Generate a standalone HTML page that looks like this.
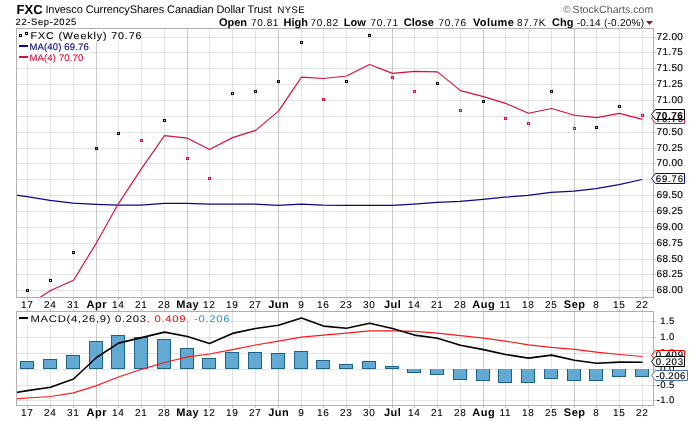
<!DOCTYPE html><html><head><meta charset="utf-8"><style>html,body{margin:0;padding:0;background:#fff;width:700px;height:421px;overflow:hidden}svg{display:block;will-change:transform;text-rendering:geometricPrecision;font-family:"Liberation Sans",sans-serif}</style></head><body>
<svg width="700" height="421" viewBox="0 0 700 421">
<rect width="700" height="421" fill="#fff"/>
<path d="M16 37.5H653M16 52.5H653M16 68.5H653M16 84.5H653M16 100.5H653M16 116.5H653M16 132.5H653M16 148.5H653M16 163.5H653M16 179.5H653M16 195.5H653M16 211.5H653M16 227.5H653M16 243.5H653M16 259.5H653M16 274.5H653M16 290.5H653M16 321.5H653M16 337.5H653M16 353.5H653M16 369.5H653M16 385.5H653M16 400.5H653" stroke="#000" stroke-opacity="0.105" stroke-width="1" shape-rendering="crispEdges"/>
<path d="M27.5 28V297M27.5 311V405M50.5 28V297M50.5 311V405M73.5 28V297M73.5 311V405M118.5 28V297M118.5 311V405M141.5 28V297M141.5 311V405M164.5 28V297M164.5 311V405M209.5 28V297M209.5 311V405M232.5 28V297M232.5 311V405M255.5 28V297M255.5 311V405M301.5 28V297M301.5 311V405M323.5 28V297M323.5 311V405M346.5 28V297M346.5 311V405M369.5 28V297M369.5 311V405M414.5 28V297M414.5 311V405M437.5 28V297M437.5 311V405M460.5 28V297M460.5 311V405M505.5 28V297M505.5 311V405M528.5 28V297M528.5 311V405M551.5 28V297M551.5 311V405M596.5 28V297M596.5 311V405M619.5 28V297M619.5 311V405M642.5 28V297M642.5 311V405" stroke="#000" stroke-opacity="0.1" stroke-width="1" shape-rendering="crispEdges"/>
<path d="M96.5 28V297M96.5 311V405M187.5 28V297M187.5 311V405M278.5 28V297M278.5 311V405M392.5 28V297M392.5 311V405M483.5 28V297M483.5 311V405M574.5 28V297M574.5 311V405" stroke="#000" stroke-opacity="0.21" stroke-width="1" shape-rendering="crispEdges"/>
<path d="M27.5 297V300M27.5 309V311M27.5 405V408M50.5 297V300M50.5 309V311M50.5 405V408M73.5 297V300M73.5 309V311M73.5 405V408M96.5 297V300M96.5 309V311M96.5 405V408M118.5 297V300M118.5 309V311M118.5 405V408M141.5 297V300M141.5 309V311M141.5 405V408M164.5 297V300M164.5 309V311M164.5 405V408M187.5 297V300M187.5 309V311M187.5 405V408M209.5 297V300M209.5 309V311M209.5 405V408M232.5 297V300M232.5 309V311M232.5 405V408M255.5 297V300M255.5 309V311M255.5 405V408M278.5 297V300M278.5 309V311M278.5 405V408M301.5 297V300M301.5 309V311M301.5 405V408M323.5 297V300M323.5 309V311M323.5 405V408M346.5 297V300M346.5 309V311M346.5 405V408M369.5 297V300M369.5 309V311M369.5 405V408M392.5 297V300M392.5 309V311M392.5 405V408M414.5 297V300M414.5 309V311M414.5 405V408M437.5 297V300M437.5 309V311M437.5 405V408M460.5 297V300M460.5 309V311M460.5 405V408M483.5 297V300M483.5 309V311M483.5 405V408M505.5 297V300M505.5 309V311M505.5 405V408M528.5 297V300M528.5 309V311M528.5 405V408M551.5 297V300M551.5 309V311M551.5 405V408M574.5 297V300M574.5 309V311M574.5 405V408M596.5 297V300M596.5 309V311M596.5 405V408M619.5 297V300M619.5 309V311M619.5 405V408M642.5 297V300M642.5 309V311M642.5 405V408M653 37.5H656M653 52.5H656M653 68.5H656M653 84.5H656M653 100.5H656M653 116.5H656M653 132.5H656M653 148.5H656M653 163.5H656M653 179.5H656M653 195.5H656M653 211.5H656M653 227.5H656M653 243.5H656M653 259.5H656M653 274.5H656M653 290.5H656M653 321.5H656M653 337.5H656M653 353.5H656M653 369.5H656M653 385.5H656M653 400.5H656" stroke="#c2c2c2" stroke-width="1" shape-rendering="crispEdges"/>
<path d="M27 419h1v1h-1zM50 419h1v1h-1zM73 419h1v1h-1zM96 419h1v1h-1zM118 419h1v1h-1zM141 419h1v1h-1zM164 419h1v1h-1zM187 419h1v1h-1zM209 419h1v1h-1zM232 419h1v1h-1zM255 419h1v1h-1zM278 419h1v1h-1zM301 419h1v1h-1zM323 419h1v1h-1zM346 419h1v1h-1zM369 419h1v1h-1zM392 419h1v1h-1zM414 419h1v1h-1zM437 419h1v1h-1zM460 419h1v1h-1zM483 419h1v1h-1zM505 419h1v1h-1zM528 419h1v1h-1zM551 419h1v1h-1zM574 419h1v1h-1zM596 419h1v1h-1zM619 419h1v1h-1zM642 419h1v1h-1z" fill="#e4e4e4" shape-rendering="crispEdges"/>
<rect x="17" y="29" width="125" height="12" fill="#fff"/>
<rect x="17" y="29" width="72" height="34" fill="#fff"/>
<rect x="17" y="312" width="213" height="12" fill="#fff"/>
<polyline points="16,195.1 27,196.6 50,200.3 73,203.2 96,204.3 118,205.1 141,205.1 164,203.4 187,203.4 209,204.2 232,204.2 255,204.2 278,205.3 301,204.2 323,205.1 346,205.3 369,205.3 392,205.3 414,204.1 437,202.4 460,201.3 483,199.4 505,197.2 528,195.3 551,192.4 574,191.1 596,188.6 619,184.6 642,179.5" fill="none" stroke="#0a0a85" stroke-width="1.2" stroke-linejoin="round"/>
<clipPath id="cp"><rect x="16" y="28" width="637" height="269"/></clipPath>
<polyline clip-path="url(#cp)" points="27.5,305.60 50.5,290.60 73.5,280.30 96.5,242.83 118.5,203.58 141.5,168.62 164.5,135.60 187.5,138.15 209.5,149.43 232.5,137.62 255.5,130.40 278.5,111.12 301.5,77.08 323.5,78.55 346.5,76.05 369.5,64.55 392.5,73.35 414.5,71.40 437.5,71.88 460.5,90.62 483.5,96.62 505.5,103.33 528.5,113.30 551.5,108.53 574.5,115.28 596.5,117.58 619.5,113.35 642.5,119.35" fill="none" stroke="#d4103c" stroke-width="1.15" stroke-linejoin="round"/>
<path d="M26 289h3v3h-3zM27 290v1h1v-1zM49 279h3v3h-3zM50 280v1h1v-1zM72 251h3v3h-3zM73 252v1h1v-1zM95 147h3v3h-3zM96 148v1h1v-1zM117 132h3v3h-3zM118 133v1h1v-1zM163 119h3v3h-3zM164 120v1h1v-1zM231 92h3v3h-3zM232 93v1h1v-1zM254 90h3v3h-3zM255 91v1h1v-1zM277 80h3v3h-3zM278 81v1h1v-1zM300 41h3v3h-3zM301 42v1h1v-1zM345 80h3v3h-3zM346 81v1h1v-1zM368 34h3v3h-3zM369 35v1h1v-1zM436 82h3v3h-3zM437 83v1h1v-1zM482 100h3v3h-3zM483 101v1h1v-1zM550 90h3v3h-3zM551 91v1h1v-1zM595 126h3v3h-3zM596 127v1h1v-1zM618 105h3v3h-3zM619 106v1h1v-1z" fill="#000" fill-rule="evenodd" shape-rendering="crispEdges"/>
<path d="M140 139h3v3h-3zM141 140v1h1v-1zM186 157h3v3h-3zM187 158v1h1v-1zM208 177h3v3h-3zM209 178v1h1v-1zM322 98h3v3h-3zM323 99v1h1v-1zM391 76h3v3h-3zM392 77v1h1v-1zM413 90h3v3h-3zM414 91v1h1v-1zM459 109h3v3h-3zM460 110v1h1v-1zM504 117h3v3h-3zM505 118v1h1v-1zM527 122h3v3h-3zM528 123v1h1v-1zM573 127h3v3h-3zM574 128v1h1v-1zM641 114h3v3h-3zM642 115v1h1v-1z" fill="#d4103c" fill-rule="evenodd" shape-rendering="crispEdges"/>
<path d="M20 361H34V369H20ZM43 359H57V369H43ZM66 355H80V369H66ZM89 341H103V369H89ZM111 335H125V369H111ZM134 337H148V369H134ZM157 339H171V369H157ZM180 348H194V369H180ZM202 358H216V369H202ZM225 352H239V369H225ZM248 352H262V369H248ZM271 353H285V369H271ZM294 351H308V369H294ZM316 360H330V369H316ZM339 364H353V369H339ZM362 361H376V369H362ZM385 366H399V369H385ZM407 369H421V373H407ZM430 369H444V375H430ZM453 369H467V380H453ZM476 369H490V381H476ZM498 369H512V383H498ZM521 369H535V383H521ZM544 369H558V379H544ZM567 369H581V381H567ZM589 369H603V381H589ZM612 369H626V377H612ZM635 369H649V377H635Z" fill="#55a3d0" fill-opacity="0.92" shape-rendering="crispEdges"/>
<path d="M20.5 361.5H33.5V368.5H20.5ZM43.5 359.5H56.5V368.5H43.5ZM66.5 355.5H79.5V368.5H66.5ZM89.5 341.5H102.5V368.5H89.5ZM111.5 335.5H124.5V368.5H111.5ZM134.5 337.5H147.5V368.5H134.5ZM157.5 339.5H170.5V368.5H157.5ZM180.5 348.5H193.5V368.5H180.5ZM202.5 358.5H215.5V368.5H202.5ZM225.5 352.5H238.5V368.5H225.5ZM248.5 352.5H261.5V368.5H248.5ZM271.5 353.5H284.5V368.5H271.5ZM294.5 351.5H307.5V368.5H294.5ZM316.5 360.5H329.5V368.5H316.5ZM339.5 364.5H352.5V368.5H339.5ZM362.5 361.5H375.5V368.5H362.5ZM385.5 366.5H398.5V368.5H385.5ZM407.5 369V372.5H420.5V369M430.5 369V374.5H443.5V369M453.5 369V379.5H466.5V369M476.5 369V380.5H489.5V369M498.5 369V382.5H511.5V369M521.5 369V382.5H534.5V369M544.5 369V378.5H557.5V369M567.5 369V380.5H580.5V369M589.5 369V380.5H602.5V369M612.5 369V376.5H625.5V369M635.5 369V376.5H648.5V369" fill="none" stroke="#1f6288" stroke-width="1" shape-rendering="crispEdges"/>
<clipPath id="cm"><rect x="16" y="311" width="637" height="94"/></clipPath>
<polyline points="16,398.9 27.5,398.0 50.5,396.5 73.5,392.9 96.5,385.6 118.5,377.0 141.5,369.3 164.5,362.5 187.5,356.9 209.5,354.0 232.5,349.6 255.5,345.0 278.5,341.1 301.5,337.2 323.5,335.1 346.5,333.1 369.5,330.9 392.5,330.9 414.5,331.4 437.5,333.1 460.5,335.6 483.5,338.2 505.5,341.1 528.5,344.8 551.5,347.4 574.5,349.3 596.5,352.1 619.5,354.5 642.5,356.5" fill="none" stroke="#ff1a1a" stroke-width="1.2"/>
<polyline points="16,392.5 27.5,390.6 50.5,387.3 73.5,379.0 96.5,357.5 118.5,343.1 141.5,337.6 164.5,332.1 187.5,336.5 209.5,343.6 232.5,333.4 255.5,328.5 278.5,325.3 301.5,318.1 323.5,326.1 346.5,328.3 369.5,323.2 392.5,328.5 414.5,335.1 437.5,338.2 460.5,345.3 483.5,349.6 505.5,354.5 528.5,358.1 551.5,355.1 574.5,360.3 596.5,363.3 619.5,362.1 642.5,362.3" fill="none" stroke="#000" stroke-width="1.6" stroke-linejoin="round"/>
<rect x="16.5" y="28.5" width="637" height="269" fill="none" stroke="#b0b0b0" stroke-width="1" shape-rendering="crispEdges"/>
<rect x="16.5" y="311.5" width="637" height="94" fill="none" stroke="#b0b0b0" stroke-width="1" shape-rendering="crispEdges"/>
<path d="M19 34h3v3h-3zM20 35v1h1v-1zM25 32h3v3h-3zM26 33v1h1v-1z" fill="#000" fill-rule="evenodd" shape-rendering="crispEdges"/>
<rect x="19" y="45" width="9" height="2" fill="#0a0a85"/>
<rect x="19" y="56" width="9" height="2" fill="#d4103c"/>
<text x="30.6" y="38.8" font-size="9.8" letter-spacing="0.8" textLength="111.7" lengthAdjust="spacingAndGlyphs" fill="#000" stroke="#000" stroke-width="0.1">FXC (Weekly) 70.76</text>
<text x="29.5" y="50" font-size="9.5" letter-spacing="0.15" fill="#0a0a85" stroke="#0a0a85" stroke-width="0.15">MA(40) 69.76</text>
<text x="29.5" y="60.7" font-size="9.5" letter-spacing="0.15" fill="#d4103c" stroke="#d4103c" stroke-width="0.12">MA(4) 70.70</text>
<rect x="19" y="317" width="9" height="2" fill="#000"/>
<text x="30.5" y="321.9" font-size="9.6" letter-spacing="0.6" textLength="199.85" lengthAdjust="spacingAndGlyphs"><tspan fill="#000">MACD(4,26,9) 0.203</tspan><tspan fill="#ff0000">, 0.409</tspan><tspan fill="#2a8fd0">, -0.206</tspan></text>
<text x="16.6" y="13.5" font-size="13" font-weight="bold" fill="#000">FXC</text>
<text x="45.4" y="13.3" font-size="11" letter-spacing="-0.08" fill="#000">Invesco CurrencyShares Canadian Dollar Trust</text>
<text x="277.6" y="12.8" font-size="9.5" letter-spacing="0.35" fill="#000">NYSE</text>
<text x="563.3" y="12.6" font-size="10" fill="#666">©</text><text x="572.6" y="12.8" font-size="10.5" letter-spacing="0.05" fill="#5a5a5a">StockCharts.com</text>
<text x="15.6" y="25.1" font-size="9.4" letter-spacing="0.65" fill="#000" stroke="#000" stroke-width="0.12">22-Sep-2025</text>
<text x="218.9" y="25.8" font-size="11" letter-spacing="0" font-weight="bold" fill="#000">Open</text>
<text x="251" y="25.8" font-size="10" letter-spacing="0.6"  fill="#000">70.81</text>
<text x="283.6" y="25.8" font-size="11" letter-spacing="0" font-weight="bold" fill="#000">High</text>
<text x="310.6" y="25.8" font-size="10" letter-spacing="0.6"  fill="#000">70.82</text>
<text x="343.7" y="25.8" font-size="11" letter-spacing="0" font-weight="bold" fill="#000">Low</text>
<text x="370.6" y="25.8" font-size="10" letter-spacing="0.6"  fill="#000">70.71</text>
<text x="403.8" y="25.8" font-size="11" letter-spacing="0" font-weight="bold" fill="#000">Close</text>
<text x="438.6" y="25.8" font-size="10" letter-spacing="0.6"  fill="#000">70.76</text>
<text x="472.9" y="25.8" font-size="11" letter-spacing="0.4" font-weight="bold" fill="#000">Volume</text>
<text x="517" y="25.8" font-size="10" letter-spacing="0.6"  fill="#000">87.7K</text>
<text x="552" y="25.8" font-size="11" letter-spacing="0" font-weight="bold" fill="#000">Chg</text>
<text x="576.7" y="25.8" font-size="10" letter-spacing="0.27"  fill="#000">-0.14 (-0.20%)</text>
<path d="M646 21h7l-3.5 4z" fill="#a0102a"/>
<text x="27.3" y="308.2" font-size="10" letter-spacing="0.7" stroke="#000" stroke-width="0.1" text-anchor="middle" fill="#000">17</text>
<text x="27.3" y="415.8" font-size="10" letter-spacing="0.7" stroke="#000" stroke-width="0.1" text-anchor="middle" fill="#000">17</text>
<text x="50.3" y="308.2" font-size="10" letter-spacing="0.7" stroke="#000" stroke-width="0.1" text-anchor="middle" fill="#000">24</text>
<text x="50.3" y="415.8" font-size="10" letter-spacing="0.7" stroke="#000" stroke-width="0.1" text-anchor="middle" fill="#000">24</text>
<text x="73.3" y="308.2" font-size="10" letter-spacing="0.7" stroke="#000" stroke-width="0.1" text-anchor="middle" fill="#000">31</text>
<text x="73.3" y="415.8" font-size="10" letter-spacing="0.7" stroke="#000" stroke-width="0.1" text-anchor="middle" fill="#000">31</text>
<text x="96.7" y="308.3" font-size="11" letter-spacing="0.5" font-weight="bold" text-anchor="middle" fill="#000">Apr</text>
<text x="96.7" y="415.90000000000003" font-size="11" letter-spacing="0.5" font-weight="bold" text-anchor="middle" fill="#000">Apr</text>
<text x="118.3" y="308.2" font-size="10" letter-spacing="0.7" stroke="#000" stroke-width="0.1" text-anchor="middle" fill="#000">14</text>
<text x="118.3" y="415.8" font-size="10" letter-spacing="0.7" stroke="#000" stroke-width="0.1" text-anchor="middle" fill="#000">14</text>
<text x="141.3" y="308.2" font-size="10" letter-spacing="0.7" stroke="#000" stroke-width="0.1" text-anchor="middle" fill="#000">21</text>
<text x="141.3" y="415.8" font-size="10" letter-spacing="0.7" stroke="#000" stroke-width="0.1" text-anchor="middle" fill="#000">21</text>
<text x="164.3" y="308.2" font-size="10" letter-spacing="0.7" stroke="#000" stroke-width="0.1" text-anchor="middle" fill="#000">28</text>
<text x="164.3" y="415.8" font-size="10" letter-spacing="0.7" stroke="#000" stroke-width="0.1" text-anchor="middle" fill="#000">28</text>
<text x="187.7" y="308.3" font-size="11" letter-spacing="0.5" font-weight="bold" text-anchor="middle" fill="#000">May</text>
<text x="187.7" y="415.90000000000003" font-size="11" letter-spacing="0.5" font-weight="bold" text-anchor="middle" fill="#000">May</text>
<text x="209.3" y="308.2" font-size="10" letter-spacing="0.7" stroke="#000" stroke-width="0.1" text-anchor="middle" fill="#000">12</text>
<text x="209.3" y="415.8" font-size="10" letter-spacing="0.7" stroke="#000" stroke-width="0.1" text-anchor="middle" fill="#000">12</text>
<text x="232.3" y="308.2" font-size="10" letter-spacing="0.7" stroke="#000" stroke-width="0.1" text-anchor="middle" fill="#000">19</text>
<text x="232.3" y="415.8" font-size="10" letter-spacing="0.7" stroke="#000" stroke-width="0.1" text-anchor="middle" fill="#000">19</text>
<text x="255.3" y="308.2" font-size="10" letter-spacing="0.7" stroke="#000" stroke-width="0.1" text-anchor="middle" fill="#000">27</text>
<text x="255.3" y="415.8" font-size="10" letter-spacing="0.7" stroke="#000" stroke-width="0.1" text-anchor="middle" fill="#000">27</text>
<text x="278.7" y="308.3" font-size="11" letter-spacing="0.5" font-weight="bold" text-anchor="middle" fill="#000">Jun</text>
<text x="278.7" y="415.90000000000003" font-size="11" letter-spacing="0.5" font-weight="bold" text-anchor="middle" fill="#000">Jun</text>
<text x="301.3" y="308.2" font-size="10" letter-spacing="0.7" stroke="#000" stroke-width="0.1" text-anchor="middle" fill="#000">9</text>
<text x="301.3" y="415.8" font-size="10" letter-spacing="0.7" stroke="#000" stroke-width="0.1" text-anchor="middle" fill="#000">9</text>
<text x="323.3" y="308.2" font-size="10" letter-spacing="0.7" stroke="#000" stroke-width="0.1" text-anchor="middle" fill="#000">16</text>
<text x="323.3" y="415.8" font-size="10" letter-spacing="0.7" stroke="#000" stroke-width="0.1" text-anchor="middle" fill="#000">16</text>
<text x="346.3" y="308.2" font-size="10" letter-spacing="0.7" stroke="#000" stroke-width="0.1" text-anchor="middle" fill="#000">23</text>
<text x="346.3" y="415.8" font-size="10" letter-spacing="0.7" stroke="#000" stroke-width="0.1" text-anchor="middle" fill="#000">23</text>
<text x="369.3" y="308.2" font-size="10" letter-spacing="0.7" stroke="#000" stroke-width="0.1" text-anchor="middle" fill="#000">30</text>
<text x="369.3" y="415.8" font-size="10" letter-spacing="0.7" stroke="#000" stroke-width="0.1" text-anchor="middle" fill="#000">30</text>
<text x="392.7" y="308.3" font-size="11" letter-spacing="0.5" font-weight="bold" text-anchor="middle" fill="#000">Jul</text>
<text x="392.7" y="415.90000000000003" font-size="11" letter-spacing="0.5" font-weight="bold" text-anchor="middle" fill="#000">Jul</text>
<text x="414.3" y="308.2" font-size="10" letter-spacing="0.7" stroke="#000" stroke-width="0.1" text-anchor="middle" fill="#000">14</text>
<text x="414.3" y="415.8" font-size="10" letter-spacing="0.7" stroke="#000" stroke-width="0.1" text-anchor="middle" fill="#000">14</text>
<text x="437.3" y="308.2" font-size="10" letter-spacing="0.7" stroke="#000" stroke-width="0.1" text-anchor="middle" fill="#000">21</text>
<text x="437.3" y="415.8" font-size="10" letter-spacing="0.7" stroke="#000" stroke-width="0.1" text-anchor="middle" fill="#000">21</text>
<text x="460.3" y="308.2" font-size="10" letter-spacing="0.7" stroke="#000" stroke-width="0.1" text-anchor="middle" fill="#000">28</text>
<text x="460.3" y="415.8" font-size="10" letter-spacing="0.7" stroke="#000" stroke-width="0.1" text-anchor="middle" fill="#000">28</text>
<text x="483.7" y="308.3" font-size="11" letter-spacing="0.5" font-weight="bold" text-anchor="middle" fill="#000">Aug</text>
<text x="483.7" y="415.90000000000003" font-size="11" letter-spacing="0.5" font-weight="bold" text-anchor="middle" fill="#000">Aug</text>
<text x="505.3" y="308.2" font-size="10" letter-spacing="0.7" stroke="#000" stroke-width="0.1" text-anchor="middle" fill="#000">11</text>
<text x="505.3" y="415.8" font-size="10" letter-spacing="0.7" stroke="#000" stroke-width="0.1" text-anchor="middle" fill="#000">11</text>
<text x="528.3" y="308.2" font-size="10" letter-spacing="0.7" stroke="#000" stroke-width="0.1" text-anchor="middle" fill="#000">18</text>
<text x="528.3" y="415.8" font-size="10" letter-spacing="0.7" stroke="#000" stroke-width="0.1" text-anchor="middle" fill="#000">18</text>
<text x="551.3" y="308.2" font-size="10" letter-spacing="0.7" stroke="#000" stroke-width="0.1" text-anchor="middle" fill="#000">25</text>
<text x="551.3" y="415.8" font-size="10" letter-spacing="0.7" stroke="#000" stroke-width="0.1" text-anchor="middle" fill="#000">25</text>
<text x="574.7" y="308.3" font-size="11" letter-spacing="0.5" font-weight="bold" text-anchor="middle" fill="#000">Sep</text>
<text x="574.7" y="415.90000000000003" font-size="11" letter-spacing="0.5" font-weight="bold" text-anchor="middle" fill="#000">Sep</text>
<text x="596.3" y="308.2" font-size="10" letter-spacing="0.7" stroke="#000" stroke-width="0.1" text-anchor="middle" fill="#000">8</text>
<text x="596.3" y="415.8" font-size="10" letter-spacing="0.7" stroke="#000" stroke-width="0.1" text-anchor="middle" fill="#000">8</text>
<text x="619.3" y="308.2" font-size="10" letter-spacing="0.7" stroke="#000" stroke-width="0.1" text-anchor="middle" fill="#000">15</text>
<text x="619.3" y="415.8" font-size="10" letter-spacing="0.7" stroke="#000" stroke-width="0.1" text-anchor="middle" fill="#000">15</text>
<text x="642.3" y="308.2" font-size="10" letter-spacing="0.7" stroke="#000" stroke-width="0.1" text-anchor="middle" fill="#000">22</text>
<text x="642.3" y="415.8" font-size="10" letter-spacing="0.7" stroke="#000" stroke-width="0.1" text-anchor="middle" fill="#000">22</text>
<text x="656.6" y="40.0" font-size="10" letter-spacing="0.3" fill="#000" stroke="#000" stroke-width="0.15">72.00</text>
<text x="656.6" y="55.0" font-size="10" letter-spacing="0.3" fill="#000" stroke="#000" stroke-width="0.15">71.75</text>
<text x="656.6" y="71.0" font-size="10" letter-spacing="0.3" fill="#000" stroke="#000" stroke-width="0.15">71.50</text>
<text x="656.6" y="87.0" font-size="10" letter-spacing="0.3" fill="#000" stroke="#000" stroke-width="0.15">71.25</text>
<text x="656.6" y="103.0" font-size="10" letter-spacing="0.3" fill="#000" stroke="#000" stroke-width="0.15">71.00</text>
<text x="656.6" y="119.0" font-size="10" letter-spacing="0.3" fill="#000" stroke="#000" stroke-width="0.15">70.75</text>
<text x="656.6" y="135.0" font-size="10" letter-spacing="0.3" fill="#000" stroke="#000" stroke-width="0.15">70.50</text>
<text x="656.6" y="151.0" font-size="10" letter-spacing="0.3" fill="#000" stroke="#000" stroke-width="0.15">70.25</text>
<text x="656.6" y="166.0" font-size="10" letter-spacing="0.3" fill="#000" stroke="#000" stroke-width="0.15">70.00</text>
<text x="656.6" y="182.0" font-size="10" letter-spacing="0.3" fill="#000" stroke="#000" stroke-width="0.15">69.75</text>
<text x="656.6" y="198.0" font-size="10" letter-spacing="0.3" fill="#000" stroke="#000" stroke-width="0.15">69.50</text>
<text x="656.6" y="214.0" font-size="10" letter-spacing="0.3" fill="#000" stroke="#000" stroke-width="0.15">69.25</text>
<text x="656.6" y="230.0" font-size="10" letter-spacing="0.3" fill="#000" stroke="#000" stroke-width="0.15">69.00</text>
<text x="656.6" y="246.0" font-size="10" letter-spacing="0.3" fill="#000" stroke="#000" stroke-width="0.15">68.75</text>
<text x="656.6" y="262.0" font-size="10" letter-spacing="0.3" fill="#000" stroke="#000" stroke-width="0.15">68.50</text>
<text x="656.6" y="277.0" font-size="10" letter-spacing="0.3" fill="#000" stroke="#000" stroke-width="0.15">68.25</text>
<text x="656.6" y="293.0" font-size="10" letter-spacing="0.3" fill="#000" stroke="#000" stroke-width="0.15">68.00</text>
<text x="660.3" y="323.9" font-size="9.5" letter-spacing="0.4" fill="#000" stroke="#000" stroke-width="0.12">1.5</text>
<text x="660.3" y="339.9" font-size="9.5" letter-spacing="0.4" fill="#000" stroke="#000" stroke-width="0.12">1.0</text>
<text x="660.3" y="355.9" font-size="9.5" letter-spacing="0.4" fill="#000" stroke="#000" stroke-width="0.12">0.5</text>
<text x="660.3" y="371.9" font-size="9.5" letter-spacing="0.4" fill="#000" stroke="#000" stroke-width="0.12">0.0</text>
<text x="656.6" y="387.9" font-size="9.5" letter-spacing="0.4" fill="#000" stroke="#000" stroke-width="0.12">-0.5</text>
<text x="656.6" y="402.9" font-size="9.5" letter-spacing="0.4" fill="#000" stroke="#000" stroke-width="0.12">-1.0</text>
<path d="M651.5 178.5L655.5 173.5H684.5V183.5H655.5Z" fill="#fff" stroke="#0a0a85" stroke-width="1"/><text x="655.8" y="181.7" font-size="9.6" letter-spacing="0.8"  fill="#000" stroke="#000" stroke-width="0.15">69.76</text>
<path d="M651.5 118.5L655.5 113.5H684.5V123.5H655.5Z" fill="#fff" stroke="#d4103c" stroke-width="1"/><text x="655.8" y="122" font-size="9.6" letter-spacing="0.8"  fill="#000" stroke="#000" stroke-width="0.15">70.70</text>
<path d="M651.5 114.5L655.5 109.5H684.5V119.5H655.5Z" fill="#fff" stroke="#000" stroke-width="1"/><text x="655.8" y="118.6" font-size="10" letter-spacing="0.5" font-weight="bold" fill="#000" stroke="#000" stroke-width="0.1">70.76</text>
<path d="M651.5 355.5L655.5 350.5H684.5V360.5H655.5Z" fill="#fff" stroke="#ff0000" stroke-width="1"/><text x="655.8" y="358" font-size="9.6" letter-spacing="0.8"  fill="#000" stroke="#000" stroke-width="0.15">0.409</text>
<path d="M651.5 361.5L655.5 356.5H684.5V366.5H655.5Z" fill="#fff" stroke="#000" stroke-width="1"/><text x="655.8" y="364.6" font-size="9.6" letter-spacing="0.8"  fill="#000" stroke="#000" stroke-width="0.15">0.203</text>
<path d="M651.5 375.5L655.5 370.5H687.5V380.5H655.5Z" fill="#fff" stroke="#4a74ae" stroke-width="1"/><text x="655.8" y="378.6" font-size="9.6" letter-spacing="0.45"  fill="#000" stroke="#000" stroke-width="0.15">-0.206</text>
</svg></body></html>
